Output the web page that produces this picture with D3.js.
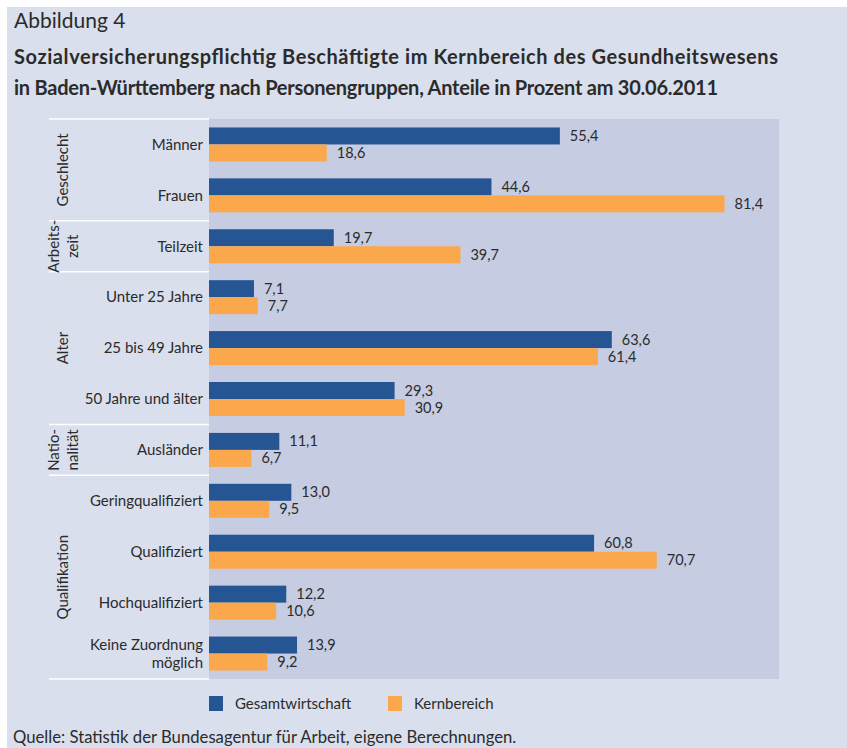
<!DOCTYPE html>
<html><head><meta charset="utf-8">
<script src="https://cdn.jsdelivr.net/npm/d3@7"></script>
<style>
html,body{margin:0;padding:0;background:#fff;}
svg{display:block;}
text{font-family:"Lato","Liberation Sans Narrow",sans-serif;fill:#2b2b2b;}
</style></head>
<body>
<script>
const categories = ["Männer","Frauen","Teilzeit","Unter 25 Jahre","25 bis 49 Jahre","50 Jahre und älter","Ausländer","Geringqualifiziert","Qualifiziert","Hochqualifiziert","Keine Zuordnung möglich"];
const gesamtwirtschaft = [55.4,44.6,19.7,7.1,63.6,29.3,11.1,13.0,60.8,12.2,13.9];
const kernbereich = [18.6,81.4,39.7,7.7,61.4,30.9,6.7,9.5,70.7,10.6,9.2];
const seriesNames = ["Gesamtwirtschaft","Kernbereich"];
const groupNames = [["Geschlecht"],["Arbeits-","zeit"],["Alter"],["Natio-","nalität"],["Qualifikation"]];
const groupStart = [0,2,3,6,7];
const groupEnd = [1,2,5,6,10];
const figureLabel = "Abbildung 4";
const titleLines = ["Sozialversicherungspflichtig Beschäftigte im Kernbereich des Gesundheitswesens","in Baden-Württemberg nach Personengruppen, Anteile in Prozent am 30.06.2011"];
const sourceText = "Quelle: Statistik der Bundesagentur für Arbeit, eigene Berechnungen.";

const W = 847, H = 748;
const colors = ["#265594","#fba84c"];
const svg = d3.select("body").append("svg").attr("width",W).attr("height",H);

svg.append("rect").attr("x",7).attr("y",7).attr("width",W-7).attr("height",H-7).attr("fill","#d9dfec");

svg.append("text").attr("x",14).attr("y",28).attr("font-size",21).text(figureLabel);
const titleLen = [764,704];
svg.selectAll(".title").data(titleLines).join("text")
  .attr("x",14).attr("y",(d,i)=>64+i*31).attr("font-size",20).attr("font-weight","bold")
  .attr("textLength",(d,i)=>titleLen[i]).attr("lengthAdjust","spacing").text(d=>d);

const plot = {left:209, right:779, top:119, bottom:679};
const x = d3.scaleLinear().domain([0,90]).range([plot.left, plot.right]);
const y = d3.scaleBand().domain(d3.range(categories.length)).range([plot.top, plot.bottom]).paddingInner(0).paddingOuter(0);
const bandH = y.bandwidth();
const barH = 17;

svg.append("rect").attr("x",plot.left).attr("y",plot.top).attr("width",plot.right-plot.left).attr("height",plot.bottom-plot.top).attr("fill","#c6cce1");

const series = [gesamtwirtschaft, kernbereich];
const fmt = v => d3.format(".1f")(v).replace(".",",");
series.forEach((vals,s)=>{
  const g = svg.append("g");
  g.selectAll("rect").data(vals).join("rect")
    .attr("x",x(0))
    .attr("y",(d,i)=>y(i)+bandH/2-barH+s*barH)
    .attr("width",d=>x(d)-x(0))
    .attr("height",barH)
    .attr("fill",colors[s]);
  g.selectAll("text").data(vals).join("text")
    .attr("x",d=>x(d)+10)
    .attr("y",(d,i)=>y(i)+bandH/2-barH/2+s*barH)
    .attr("dy","0.35em")
    .attr("font-size",14.5)
    .text(d=>fmt(d));
});

// category labels
categories.forEach((c,i)=>{
  const lines = c === "Keine Zuordnung möglich" ? ["Keine Zuordnung","möglich"] : [c];
  const t = svg.append("text").attr("text-anchor","end").attr("font-size",15);
  lines.forEach((l,j)=>{
    t.append("tspan").attr("x",203)
      .attr("y",y(i)+bandH/2 + (j-(lines.length-1)/2)*18)
      .attr("dy","0.35em").text(l);
  });
});

// group separators
const seps = [plot.top].concat(groupEnd.map(e=>y(e)+bandH));
svg.selectAll(".sep").data(seps).join("line")
  .attr("x1",49).attr("x2",plot.left).attr("y1",d=>d).attr("y2",d=>d)
  .attr("stroke","#ffffff").attr("stroke-width",1.5);

// group labels
groupNames.forEach((lines,k)=>{
  const cy = (y(groupStart[k]) + y(groupEnd[k]) + bandH)/2;
  lines.forEach((l,j)=>{
    const cx = 63 + (j-(lines.length-1)/2)*19;
    svg.append("text").attr("transform",`translate(${cx},${cy}) rotate(-90)`)
      .attr("text-anchor","middle").attr("dy","0.35em").attr("font-size",15).text(l);
  });
});

// legend
const legX = [209,388];
seriesNames.forEach((n,s)=>{
  svg.append("rect").attr("x",legX[s]).attr("y",696).attr("width",14).attr("height",15).attr("fill",colors[s]);
  svg.append("text").attr("x",legX[s]+26).attr("y",703.5).attr("dy","0.35em").attr("font-size",15).text(n);
});

svg.append("text").attr("x",13).attr("y",743).attr("font-size",16.7).text(sourceText);
</script>
</body></html>
